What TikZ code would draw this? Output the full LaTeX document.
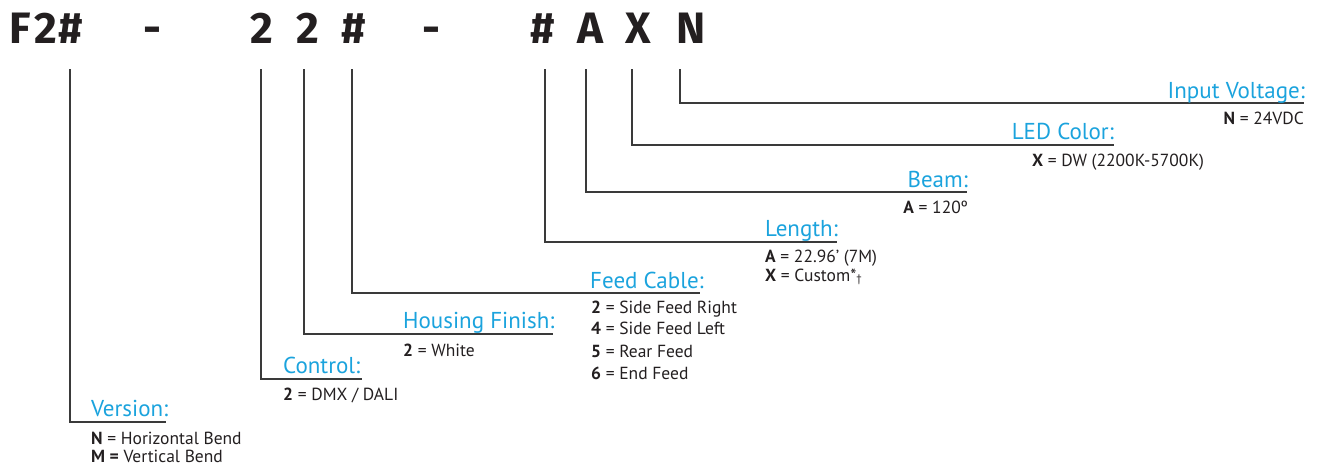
\documentclass[tikz,border=0pt]{standalone}
\usepackage{fontspec}
\setmainfont{PT Sans}
\newfontfamily\headfont{Fira Sans}
\definecolor{labcyan}{HTML}{1BA3DD}
\definecolor{inkdark}{HTML}{231F20}
\definecolor{linegray}{HTML}{3A3A3A}
\tikzset{
  headchar/.style={font=\headfont\bfseries\fontsize{44}{44}\selectfont, text=inkdark, inner sep=0pt, anchor=base},
  lab/.style={font=\fontsize{23}{23}\selectfont, text=labcyan, inner sep=0pt},
  val/.style={font=\fontsize{17.5}{17.5}\selectfont, text=inkdark, inner sep=0pt, anchor=base west},
  leader/.style={draw=linegray, line width=1.2pt}
}
\begin{document}
\begin{tikzpicture}[x=1pt,y=-1pt]
\useasboundingbox (0,0) rectangle (1317,466);
% header
\node[headchar] (hF) at (20.5,43) {F};
\node[headchar] (hF2) at (45.5,43) {2};
\node[headchar] (hF3) at (71,43) {\#};
\node[headchar] (hd1) at (152,43) {-};
\node[headchar] (h2a) at (262,43) {2};
\node[headchar] (h2b) at (308,43) {2};
\node[headchar] (hh1) at (354,43) {\#};
\node[headchar] (hd2) at (431,43) {-};
\node[headchar] (hh2) at (543,43) {\#};
\node[headchar] (hA) at (590,43) {A};
\node[headchar] (hX) at (638,43) {X};
\node[headchar] (hN) at (691,43) {N};
% leader tops
\coordinate (tVer) at (70,69);
\coordinate (tCon) at (261,69);
\coordinate (tHou) at (304,69);
\coordinate (tFee) at (352,69);
\coordinate (tLen) at (545,69);
\coordinate (tBea) at (586,69);
\coordinate (tLed) at (632,69);
\coordinate (tInp) at (680,69);
% leader ends
\coordinate (eVer) at (166,422);
\coordinate (eCon) at (362,379);
\coordinate (eHou) at (553,334);
\coordinate (eFee) at (700,293);
\coordinate (eLen) at (837,242);
\coordinate (eBea) at (967,192);
\coordinate (eLed) at (1114,145);
\coordinate (eInp) at (1304,103);
\draw[leader] (tVer) |- (eVer);
\draw[leader] (tCon) |- (eCon);
\draw[leader] (tHou) |- (eHou);
\draw[leader] (tFee) |- (eFee);
\draw[leader] (tLen) |- (eLen);
\draw[leader] (tBea) |- (eBea);
\draw[leader] (tLed) |- (eLed);
\draw[leader] (tInp) |- (eInp);
% labels
\node[lab, anchor=base east] (lInp) at (1305,98) {Input Voltage:};
\node[val, anchor=base east] (vInp) at (1304,124) {\textbf{N} = 24VDC};
\node[lab, anchor=base east] (lLed) at (1114,139) {LED Color:};
\node[val] (vLed) at (1032,166) {\textbf{X} = DW (2200K-5700K)};
\node[lab, anchor=base east] (lBea) at (968,187) {Beam:};
\node[val, anchor=base east] (vBea) at (968,213) {\textbf{A} = 120º};
\node[lab, anchor=base west] (lLen) at (765,236) {Length:};
\node[val] (vLen1) at (765,262) {\textbf{A} = 22.96’ (7M)};
\node[val] (vLen2) at (765,281) {\textbf{X} = Custom*\raisebox{-1pt}{\fontsize{11}{11}\selectfont †}};
\node[lab, anchor=base west] (lFee) at (590,288) {Feed Cable:};
\node[val] (vFee1) at (591,313) {\textbf{2} = Side Feed Right};
\node[val] (vFee2) at (591,334) {\textbf{4} = Side Feed Left};
\node[val] (vFee3) at (591,357) {\textbf{5} = Rear Feed};
\node[val] (vFee4) at (591,379) {\textbf{6} = End Feed};
\node[lab, anchor=base west] (lHou) at (403,328) {Housing Finish:};
\node[val] (vHou) at (403,356) {\textbf{2} = White};
\node[lab, anchor=base west] (lCon) at (283,373) {Control:};
\node[val] (vCon) at (283,400) {\textbf{2} = DMX / DALI};
\node[lab, anchor=base west] (lVer) at (91,416) {Version:};
\node[val] (vVer1) at (91,444) {\textbf{N} = Horizontal Bend};
\node[val] (vVer2) at (91,462) {\textbf{M =} Vertical Bend};
\end{tikzpicture}
\end{document}
